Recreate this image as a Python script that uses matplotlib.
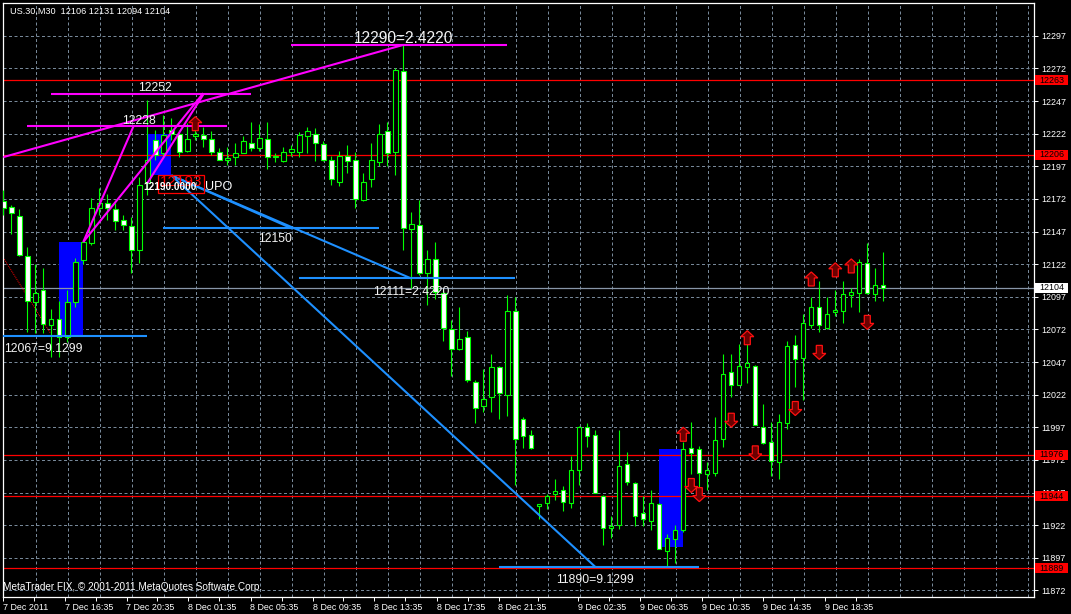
import matplotlib
matplotlib.use('Agg')
import matplotlib.pyplot as plt
import numpy as np
from matplotlib.patches import Rectangle, Polygon
from matplotlib.transforms import blended_transform_factory

plt.rcParams['font.family'] = ['Liberation Sans', 'DejaVu Sans']

# US.30 M30 bars (open, high, low, close)
opens = [12170, 12166, 12159, 12128, 12093, 12102, 12075, 12080, 12066, 12093,
         12125, 12138, 12165, 12169, 12164, 12156, 12151, 12133, 12184, 12217,
         12207, 12225, 12222, 12209, 12220, 12221, 12218, 12208, 12202, 12204,
         12207, 12215, 12211, 12218, 12204, 12201, 12208, 12208, 12220, 12222,
         12214, 12202, 12185, 12205, 12202, 12171, 12187, 12200, 12224, 12208,
         12270, 12149, 12152, 12115, 12126, 12100, 12072, 12057, 12066, 12032,
         12013, 12020, 12043, 12022, 12086, 12003, 11991, 11937, 11939, 11946,
         11949, 11939, 11964, 11997, 11991, 11944, 11920, 11922, 11969, 11954,
         11931, 11925, 11938, 11902, 11911, 11918, 11981, 11980, 11961, 11962,
         11988, 12039, 12029, 12043, 12044, 11997, 11986, 11970, 12000, 12060,
         12050, 12075, 12089, 12073, 12085, 12086, 12098, 12100, 12123, 12099,
         12106]
highs = [12179, 12167, 12164, 12135, 12122, 12119, 12088, 12094, 12102, 12127,
         12140, 12173, 12180, 12176, 12169, 12160, 12158, 12189, 12248, 12225,
         12236, 12234, 12225, 12230, 12231, 12227, 12224, 12211, 12212, 12215,
         12220, 12231, 12229, 12231, 12207, 12212, 12213, 12223, 12227, 12226,
         12216, 12205, 12209, 12213, 12208, 12192, 12215, 12229, 12231, 12272,
         12290, 12162, 12171, 12133, 12139, 12102, 12079, 12089, 12071, 12033,
         12042, 12053, 12044, 12098, 12097, 12005, 11995, 11938, 11946, 11957,
         11952, 11975, 11998, 12000, 11995, 11945, 11929, 11995, 11978, 11955,
         11944, 11949, 11939, 11915, 11922, 11986, 12001, 11983, 11970, 12005,
         12053, 12053, 12061, 12061, 12045, 12015, 12001, 12007, 12063, 12068,
         12084, 12097, 12109, 12097, 12102, 12109, 12104, 12126, 12138, 12119,
         12131]
lows = [12160, 12145, 12128, 12070, 12069, 12069, 12051, 12051, 12062, 12089,
        12122, 12137, 12160, 12156, 12148, 12148, 12115, 12123, 12175, 12202,
        12204, 12217, 12204, 12208, 12217, 12212, 12206, 12202, 12198, 12198,
        12207, 12209, 12209, 12195, 12200, 12200, 12205, 12204, 12207, 12201,
        12201, 12183, 12182, 12192, 12165, 12170, 12181, 12197, 12197, 12190,
        12133, 12104, 12114, 12091, 12095, 12063, 12036, 12056, 12032, 12000,
        12009, 12009, 12003, 12006, 11953, 11981, 11980, 11927, 11934, 11941,
        11933, 11935, 11953, 11982, 11947, 11907, 11912, 11919, 11953, 11921,
        11921, 11918, 11904, 11890, 11893, 11917, 11961, 11949, 11949, 11960,
        11982, 12020, 12029, 12031, 11999, 11984, 11960, 11957, 11996, 12028,
        12018, 12073, 12070, 12072, 12082, 12077, 12089, 12085, 12099, 12094,
        12094]
closes = [12165, 12161, 12129, 12094, 12100, 12076, 12080, 12066, 12093, 12124,
          12139, 12165, 12169, 12165, 12155, 12152, 12133, 12183, 12202, 12206,
          12221, 12222, 12208, 12218, 12222, 12218, 12208, 12202, 12203, 12207,
          12216, 12211, 12219, 12204, 12205, 12208, 12210, 12221, 12224, 12215,
          12202, 12187, 12205, 12201, 12172, 12185, 12202, 12222, 12207, 12271,
          12150, 12153, 12115, 12126, 12101, 12073, 12057, 12065, 12033, 12012,
          12019, 12043, 12023, 12086, 11988, 11990, 11981, 11938, 11944, 11948,
          11940, 11964, 11997, 11990, 11947, 11920, 11921, 11967, 11955, 11929,
          11927, 11939, 11904, 11912, 11918, 11980, 11977, 11962, 11964, 11987,
          12038, 12029, 12044, 12046, 11999, 11985, 11971, 12001, 12059, 12049,
          12077, 12089, 12075, 12084, 12087, 12099, 12101, 12124, 12100, 12106,
          12104]

# time axis
time_labels = ['7 Dec 2011', '7 Dec 16:35', '7 Dec 20:35', '8 Dec 01:35', '8 Dec 05:35',
               '8 Dec 09:35', '8 Dec 13:35', '8 Dec 17:35', '8 Dec 21:35', '9 Dec 02:35',
               '9 Dec 06:35', '9 Dec 10:35', '9 Dec 14:35', '9 Dec 18:35']
time_label_bars = [0, 7.7, 15.4, 23.1, 30.9, 38.7, 46.3, 54.2, 61.9, 71.8, 79.6, 87.3, 95, 102.7]
price_ticks = [12297, 12272, 12247, 12222, 12197, 12172, 12147, 12122, 12097, 12072,
               12047, 12022, 11997, 11972, 11947, 11922, 11897, 11872]

# horizontal levels
red_levels = [12263, 12206, 11976, 11944, 11889]
last_price = 12104

# signal arrows (bar, price at arrow tip)
up_arrows = [(24, 12235), (85, 11997), (93, 12071), (101, 12116), (104, 12123), (106, 12126)]
down_arrows = [(86, 11947), (87, 11940), (91, 11997), (94, 11972), (99, 12006), (102, 12049), (108, 12072)]

# drawn objects (bar, price)
blue_boxes = [((7, 12139), (10, 12067)), ((18, 12222), (21, 12190)), ((82, 11980), (85, 11905))]
magenta_levels = [(36, 63, 12290), (6, 31, 12252), (3, 28, 12228)]
magenta_trends = [((0, 12204), (50, 12290)), ((10, 12139), (16.3, 12228)),
                  ((10, 12139), (25, 12253)), ((18, 12184), (25, 12252))]
blue_levels = [(0, 18, 12067), (20, 47, 12150), (37, 64, 12111), (62, 87, 11890)]
blue_trends = [((21, 12190), (51, 12111)), ((21, 12190), (36.2, 12149)), ((21, 12190), (74, 11890))]
red_trend = ((0, 12127), (5.9, 12069))
level_texts = [(50, 12295, '12290=2.4220', 11.2), (19, 12257, '12252', 8.8),
               (17, 12232, '12228', 8.8), (34, 12141, '12150', 8.8),
               (51, 12101, '12111=2.4220', 8.8), (74, 11880, '11890=9.1299', 8.8)]

W, H = 1071, 614
fig = plt.figure(figsize=(W / 100, H / 100), dpi=100, facecolor='black')
ax = fig.add_axes([2.7 / W, (H - 597) / H, (1034 - 2.7) / W, (597 - 2.7) / H])
ax.set_facecolor('black')

px_x = 1 / 8.0          # bars per pixel
px_y = 1 / 1.305        # points per pixel
ax.set_xlim(-0.6 * px_x, (1034 - 3.3) * px_x)
ax.set_ylim(12324.4 - 597 * px_y, 12324.4 - 2.7 * px_y)

grid_kw = dict(color='#778899', lw=0.72, ls=(0, (3, 2.5)), zorder=0)
for b in np.arange(4.05, 129, 4):
    ax.axvline(b, **grid_kw)
for p in price_ticks:
    ax.axhline(p, **grid_kw)

for (x0, p0), (x1, p1) in blue_boxes:
    ax.add_patch(Rectangle((x0, p1), x1 - x0, p0 - p1, facecolor='#0000FF', edgecolor='none', zorder=1))

for p in red_levels:
    ax.axhline(p, color='#FF0000', lw=0.9, zorder=2)
ax.axhline(last_price, color='#8896A8', lw=0.9, zorder=2)

ax.plot([red_trend[0][0], red_trend[1][0]], [red_trend[0][1], red_trend[1][1]],
        color='#FF0000', lw=0.7, ls=(0, (1, 1)), zorder=2)

idx = np.arange(len(opens))
o, h, l, c = map(np.array, (opens, highs, lows, closes))
ax.vlines(idx, l, h, color='#00FF00', lw=0.8, zorder=3)
bull = c >= o
ax.bar(idx, np.maximum(np.abs(c - o), 0.05), bottom=np.minimum(o, c), width=0.55,
       color=np.where(bull, 'black', 'white'), edgecolor='#00FF00', linewidth=0.8, zorder=4)

line_kw = dict(lw=1.5, solid_capstyle='butt', zorder=5)
for x0, x1, p in magenta_levels:
    ax.plot([x0, x1], [p, p], color='#FF00FF', **line_kw)
for (x0, p0), (x1, p1) in magenta_trends:
    ax.plot([x0, x1], [p0, p1], color='#FF00FF', **line_kw)
for x0, x1, p in blue_levels:
    ax.plot([x0, x1], [p, p], color='#1E90FF', **line_kw)
for (x0, p0), (x1, p1) in blue_trends:
    ax.plot([x0, x1], [p0, p1], color='#1E90FF', **line_kw)


def arrow(bar, tip, up):
    s = -1 if up else 1
    pts = [(0, 0), (6.5, 6), (3, 6), (3, 14), (-3, 14), (-3, 6), (-6.5, 6)]
    xy = [(bar + dx * px_x, tip + s * dy * px_y) for dx, dy in pts]
    ax.add_patch(Polygon(xy, closed=True, facecolor='#6A0000', edgecolor='#FF1010', lw=0.9, zorder=6))


for b, p in up_arrows:
    arrow(b, p, True)
for b, p in down_arrows:
    arrow(b, p, False)

txt_kw = dict(color='#F4F4F4', va='center', zorder=7)
for b, p, s, fs in level_texts:
    ax.text(b, p, s, ha='center', fontsize=fs, **txt_kw)
ax.text(0.1, 12057, '12067=9.1299', ha='left', fontsize=8.8, **txt_kw)

# UPO marker
ax.add_patch(Rectangle((19.3, 12176.3), 5.8, 14, facecolor='none', edgecolor='#FF0000', lw=0.9, zorder=7))
ax.text(19.6, 12185, '12193', color='#FF0000', fontsize=11, va='center', ha='left', zorder=7)
ax.text(17.5, 12181, '12190.0000', color='white', fontsize=7.3, fontweight='bold', va='center', ha='left', zorder=8)
ax.text(25.2, 12181, 'UPO', color='white', fontsize=9, va='center', ha='left', zorder=8)

ax.text(7 / (1034 - 2.7), 0.9855, 'US.30,M30  12106 12131 12094 12104', transform=ax.transAxes,
        color='white', fontsize=6.6, va='center', ha='left')
ax.text(3 / (1034 - 2.7), 11874.5, 'MetaTrader FIX, \u00a9 2001-2011 MetaQuotes Software Corp.',
        color='white', fontsize=7.2, va='center', ha='left', zorder=8)

for side in ('left', 'top', 'right', 'bottom'):
    ax.spines[side].set_color('white')
    ax.spines[side].set_linewidth(0.9)

ax.yaxis.tick_right()
ax.set_yticks(price_ticks)
ax.set_yticklabels([str(p) for p in price_ticks])
ax.tick_params(axis='y', colors='white', labelsize=6.4, length=3, width=0.7, pad=2)
ax.set_xticks(time_label_bars)
ax.set_xticklabels(time_labels, ha='left')
mids = [(a + b) / 2 for a, b in zip(time_label_bars[:-1], time_label_bars[1:])]
mids.append(time_label_bars[-1] + 3.9)
ax.set_xticks(mids, minor=True)
ax.tick_params(axis='x', which='both', colors='white', labelsize=6.4, length=3, width=0.7, pad=1)

# price labels on the scale
trans = blended_transform_factory(fig.transFigure, ax.transData)
for p, fc in [(p, '#FF0000') for p in red_levels] + [(last_price, 'white')]:
    ax.add_patch(Rectangle((1035 / W, p - 5 * px_y), 33 / W, 10 * px_y, transform=trans,
                           facecolor=fc, edgecolor='none', clip_on=False, zorder=9))
    ax.text(1051.5 / W, p, str(p), transform=trans, ha='center', va='center',
            color='black', fontsize=6.4, clip_on=False, zorder=10)

fig.savefig('out.png', dpi=100, facecolor='black')
